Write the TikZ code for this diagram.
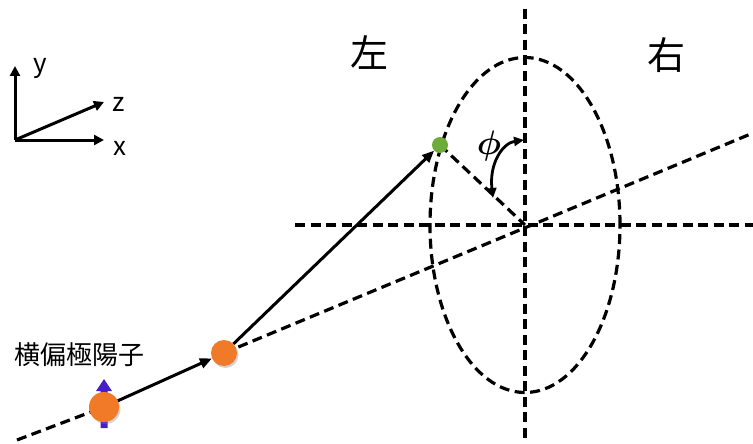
\documentclass[tikz,border=0pt]{standalone}
\usepackage{fix-cm}
\usepackage{amsmath}
\usepackage{fontspec}
\setmainfont{Noto Sans CJK JP}
\usetikzlibrary{arrows.meta,shadows,backgrounds}
\definecolor{ballorange}{RGB}{240,122,40}
\definecolor{dotgreen}{RGB}{110,172,58}
\definecolor{spinblue}{RGB}{72,30,200}
\begin{document}
\begin{tikzpicture}[x=1pt,y=-1pt,
  dline/.style={line width=3.2pt, dash pattern=on 10pt off 5.5pt},
  sline/.style={line width=3pt, -{Triangle[length=12pt,width=10pt]}},
  axisarrow/.style={line width=3pt, -{Triangle[length=10pt,width=10pt]}},
  ball/.style={circle, fill=ballorange, inner sep=0pt,
    drop shadow={shadow xshift=1.5pt, shadow yshift=-2pt, opacity=0.35}},
  lbl/.style={inner sep=0pt, font=\fontsize{26}{26}\selectfont},
]
\useasboundingbox (0,0) rectangle (753,444);

% key coordinates
\coordinate (c) at (525,225);
\coordinate (s) at (17,440);
\coordinate (e) at (753,133);
\coordinate (vt) at (525,9);
\coordinate (vb) at (525,438);
\coordinate (hl) at (295,225);
\coordinate (hr) at (753,225);

% spin arrow
\fill[spinblue] (100.5,428) -- (100.5,391) -- (96,391) -- (104,379)
  -- (112,391) -- (107.5,391) -- (107.5,428) -- cycle;

% particles
\node[ball, minimum size=30pt] (p1) at (104,407) {};
\node[ball, minimum size=26pt] (p2) at (224,353) {};
\node[circle, fill=dotgreen, inner sep=0pt, minimum size=16pt] (g) at (440,145) {};

\begin{scope}[on background layer]
  \draw[dline] (c) ellipse [x radius=95pt, y radius=167.5pt];
  \draw[dline] (vt) -- (vb);
  \draw[dline] (hl) -- (hr);
  \draw[dline] (s) -- (p1.center);
  \draw[dline] (p2.center) -- (e);
  \draw[dline] (g.center) -- (c);
\end{scope}

\draw[sline] (p1) -- (p2);
\draw[sline] (p2) -- (g);

% phi arrow
\coordinate (pa) at (493,198);
\coordinate (pb) at (524,140);
\draw[line width=2.8pt, {Triangle[length=10pt,width=9pt]}-{Triangle[length=10pt,width=9pt]}]
  (pa) .. controls (489,163) and (503,143) .. (pb);
\node[font=\fontsize{34}{34}\selectfont] (phi) at (489,146) {$\boldsymbol{\phi}$};

% labels
\node (zuo) at (369,53) {\fontsize{38}{38}\selectfont 左};
\node (you) at (666,55) {\fontsize{38}{38}\selectfont 右};
\node[lbl] (lab) at (80,355) {横偏極陽子};

% axes
\coordinate (o) at (15,140);
\coordinate (ay) at (15,66);
\coordinate (ax) at (104,140);
\coordinate (az) at (104,102);
\draw[axisarrow] (o) -- (ay);
\draw[axisarrow] (o) -- (ax);
\draw[axisarrow] (o) -- (az);
\node[lbl] (ly) at (40,68) {y};
\node[lbl] (lz) at (119,104) {z};
\node[lbl] (lx) at (120,148) {x};
\end{tikzpicture}
\end{document}
